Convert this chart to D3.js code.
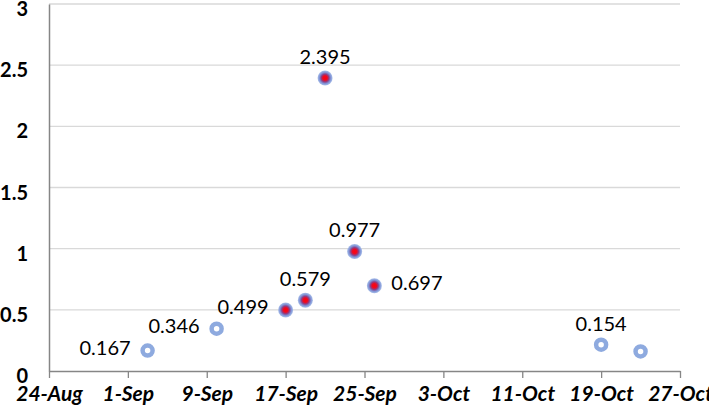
<!DOCTYPE html>
<html>
<head>
<meta charset="utf-8">
<script src="https://cdn.jsdelivr.net/npm/d3@7"></script>
<style>
  html, body { margin: 0; padding: 0; background: #fff; }
  svg { display: block; }
</style>
</head>
<body>
<svg id="chart" width="709" height="409"></svg>
<script>
// ---- data ----
const dates = ["2020-09-03", "2020-09-10", "2020-09-17", "2020-09-19", "2020-09-21",
               "2020-09-24", "2020-09-26", "2020-10-19", "2020-10-23"];
const values = [0.167, 0.346, 0.499, 0.579, 2.395, 0.977, 0.697, 0.215, 0.16];
const labels = ["0.167", "0.346", "0.499", "0.579", "2.395", "0.977", "0.697", "0.154", ""];
const highlighted = [false, false, true, true, true, true, true, false, false];
const yTicks = [0, 0.5, 1, 1.5, 2, 2.5, 3];
const xTickLabels = ["24-Aug", "1-Sep", "9-Sep", "17-Sep", "25-Sep", "3-Oct", "11-Oct", "19-Oct", "27-Oct"];
// label placement: where the label sits relative to its point
const labelPlacement = ["left", "left", "left", "above", "above", "above", "right", "above", ""];

// ---- layout ----
const svg = d3.select("#chart");
const mLeft = 49, mRight = 680, mTop = 4, mBottom = 371;
const parse = d3.timeParse("%Y-%m-%d");
const x = d3.scaleTime()
  .domain([parse("2020-08-24"), parse("2020-10-27")])
  .range([mLeft, mRight]);
const y = d3.scaleLinear().domain([0, 3]).range([mBottom, mTop]);

const defs = svg.append("defs");
const grad = defs.append("radialGradient").attr("id", "redDot");
grad.append("stop").attr("offset", "0%").attr("stop-color", "#ff0010");
grad.append("stop").attr("offset", "30%").attr("stop-color", "#ee0a20");
grad.append("stop").attr("offset", "52%").attr("stop-color", "#8c3f86");
grad.append("stop").attr("offset", "75%").attr("stop-color", "#7f93d6");
grad.append("stop").attr("offset", "100%").attr("stop-color", "#aabfe9");

// gridlines
svg.append("g").selectAll("line")
  .data(yTicks.filter(d => d > 0))
  .join("line")
  .attr("x1", mLeft).attr("x2", mRight)
  .attr("y1", d => y(d)).attr("y2", d => y(d))
  .attr("stroke", "#d9d9d9").attr("stroke-width", 1.3);

// y axis
const yAxis = svg.append("g")
  .attr("transform", `translate(${mLeft},0)`)
  .call(d3.axisLeft(y).tickValues(yTicks).tickSize(0).tickPadding(21).tickFormat(d3.format("")));
yAxis.select(".domain").attr("stroke", "#868686").attr("stroke-width", 1.5);
yAxis.selectAll("text")
  .attr("font-family", "Lato, 'Open Sans', sans-serif")
  .attr("font-weight", "bold")
  .attr("font-size", "20px")
  .attr("fill", "#000")
  .attr("dy", "0.58em");

// x axis
const tickDates = d3.range(0, 9).map(i => d3.timeDay.offset(parse("2020-08-24"), i * 8));
const xAxis = svg.append("g")
  .attr("transform", `translate(0,${mBottom})`)
  .call(d3.axisBottom(x).tickValues(tickDates).tickSize(7).tickPadding(8)
    .tickFormat((d, i) => xTickLabels[i]).tickSizeOuter(0));
xAxis.select(".domain").attr("stroke", "#868686").attr("stroke-width", 1.5);
xAxis.selectAll(".tick line").attr("stroke", "#868686").attr("stroke-width", 1.3);
xAxis.selectAll("text")
  .attr("font-family", "Lato, 'Open Sans', sans-serif")
  .attr("font-weight", "bold")
  .attr("font-style", "italic")
  .attr("font-size", "21px")
  .attr("fill", "#000");

// points
const pts = dates.map((d, i) => ({ date: parse(d), v: values[i], label: labels[i], hl: highlighted[i], place: labelPlacement[i] }));
const pg = svg.append("g");
pg.selectAll("circle.plain")
  .data(pts.filter(p => !p.hl))
  .join("circle")
  .attr("class", "plain")
  .attr("cx", p => x(p.date)).attr("cy", p => y(p.v))
  .attr("r", 5)
  .attr("fill", "#fff")
  .attr("stroke", "#8eaadf")
  .attr("stroke-width", 4.5);
pg.selectAll("circle.hl")
  .data(pts.filter(p => p.hl))
  .join("circle")
  .attr("class", "hl")
  .attr("cx", p => x(p.date)).attr("cy", p => y(p.v))
  .attr("r", 7.5)
  .attr("fill", "url(#redDot)");

// data labels
svg.append("g").selectAll("text")
  .data(pts.filter(p => p.label))
  .join("text")
  .attr("x", p => p.place === "left" ? x(p.date) - 17 : p.place === "right" ? x(p.date) + 17 : x(p.date))
  .attr("y", p => p.place === "above" ? y(p.v) - 14 : y(p.v) - 3)
  .attr("dy", p => p.place === "above" ? "0" : "0.35em")
  .attr("text-anchor", p => p.place === "left" ? "end" : p.place === "right" ? "start" : "middle")
  .attr("font-family", "Lato, 'Open Sans', sans-serif")
  .attr("font-size", "20px")
  .attr("fill", "#000")
  .text(p => p.label);
</script>
</body>
</html>
